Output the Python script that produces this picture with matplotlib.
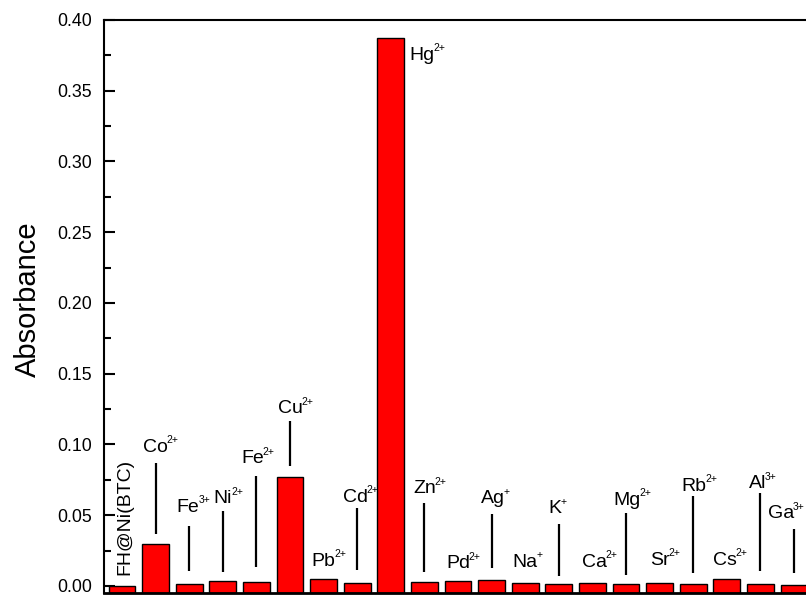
import matplotlib
matplotlib.use("Agg")
import matplotlib.pyplot as plt
from matplotlib.ticker import MultipleLocator, FormatStrFormatter

plt.rcParams['font.family'] = ['Liberation Sans', 'DejaVu Sans']

# Samples and their measured absorbance
ions = ['FH@Ni(BTC)', 'Co', 'Fe', 'Ni', 'Fe', 'Cu', 'Pb', 'Cd', 'Hg', 'Zn', 'Pd',
        'Ag', 'Na', 'K', 'Ca', 'Mg', 'Sr', 'Rb', 'Cs', 'Al', 'Ga']
charges = ['', '2+', '3+', '2+', '2+', '2+', '2+', '2+', '2+', '2+', '2+',
           '+', '+', '+', '2+', '2+', '2+', '2+', '2+', '3+', '3+']
absorbance = [0.0000, 0.0295, 0.0014, 0.0037, 0.0026, 0.0773, 0.0047, 0.0019,
              0.3870, 0.0026, 0.0033, 0.0040, 0.0023, 0.0014, 0.0023, 0.0014,
              0.0019, 0.0012, 0.0047, 0.0016, 0.0005]

# Label placement (baseline height in data units, horizontal nudge in px)
label_y = [0.0078, 0.0949, 0.0525, 0.0584, 0.0867, 0.1220, 0.0141, 0.0596,
           0.3717, 0.0655, 0.0125, 0.0584, 0.0136, 0.0514, 0.0136, 0.0572,
           0.0148, 0.0671, 0.0148, 0.0690, 0.0478]
label_dx = [3, 0, -1, 0, -4, 0, 0, -2, 31, 0, 0, 1, 0, -4, 2, 1, 0, 1, -2, -3, -13]

# Leader lines joining labels to bars (None = no leader)
leader_top = [None, 0.0867, 0.0426, 0.0532, 0.0777, 0.1166, None, 0.0553, None,
              0.0589, None, 0.0507, None, 0.0436, None, 0.0514, None, 0.0636,
              None, 0.0659, 0.0403]
leader_bottom = [None, 0.0365, 0.0106, 0.0097, 0.0132, 0.0850, None, 0.0113, None,
                 0.0101, None, 0.0125, None, 0.0071, None, 0.0078, None, 0.0094,
                 None, 0.0108, 0.0094]

Y_FLOOR = -0.005
Y_TOP = 0.40

fig = plt.figure(figsize=(8.06, 5.96), dpi=100)
ax = fig.add_axes([104 / 806, 3 / 596, 740.4 / 806, 573 / 596])

x = list(range(len(absorbance)))
heights = [v - Y_FLOOR for v in absorbance]
ax.bar(x, heights, bottom=Y_FLOOR, width=0.80, color='#ff0000',
       edgecolor='black', linewidth=1.0, zorder=2)

# leader lines
for i in x:
    if leader_top[i] is not None:
        ax.vlines(i, leader_bottom[i], leader_top[i], color='black', linewidth=1.6, zorder=3)

# labels: element symbol centred on the bar, charge as a small superscript
for i in x:
    if charges[i] == '':
        ax.annotate(ions[i], xy=(i, label_y[i]), xytext=(label_dx[i] * 0.72, 0),
                    textcoords='offset points', rotation=90, ha='center',
                    va='bottom', fontsize=14)
        continue
    t = ax.annotate(ions[i], xy=(i, label_y[i]), xytext=(label_dx[i] * 0.72, 0),
                    textcoords='offset points', ha='center', va='baseline',
                    fontsize=14)
    ax.annotate(charges[i], xy=(1.0, 0.62), xycoords=t, xytext=(-0.8, 0),
                textcoords='offset points', ha='left', va='bottom', fontsize=7.5)

ax.set_xlim(-0.536, 21.5)
ax.set_ylim(Y_FLOOR, Y_TOP)

ax.set_xticks([])
ax.yaxis.set_major_locator(MultipleLocator(0.05))
ax.yaxis.set_minor_locator(MultipleLocator(0.025))
ax.yaxis.set_major_formatter(FormatStrFormatter('%.2f'))
ax.tick_params(axis='y', which='major', direction='in', length=8, width=1.5,
               labelsize=12.8, pad=8.6, right=False)
ax.tick_params(axis='y', which='minor', direction='in', length=5, width=1.5, right=False)

for side in ['left', 'top', 'right']:
    ax.spines[side].set_linewidth(1.5)
ax.spines['bottom'].set_linewidth(2.0)

ax.set_ylabel('Absorbance', fontsize=21)
ax.yaxis.set_label_coords(-0.1026, 0.512)
ax.yaxis.label.set_verticalalignment('center')

fig.savefig('out.png', dpi=100)
